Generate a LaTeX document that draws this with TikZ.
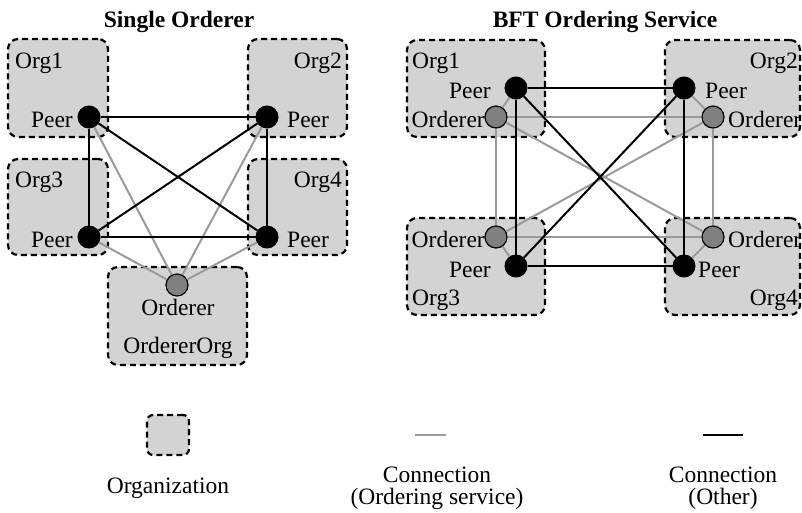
\documentclass[tikz,border=0pt]{standalone}
\usepackage{fontspec}
\setmainfont{Liberation Serif}
\definecolor{orgfill}{HTML}{D3D3D3}
\definecolor{ordfill}{HTML}{808080}
\definecolor{linegray}{HTML}{9A9A9A}
\begin{document}
\begin{tikzpicture}[x=1pt,y=-1pt,
  org/.style={draw=black, fill=orgfill, line width=2.2pt, dash pattern=on 6pt off 4pt, rounded corners=10pt, inner sep=0pt},
  peer/.style={circle, fill=black, draw=black, line width=1pt, minimum size=22pt, inner sep=0pt},
  ord/.style={circle, fill=ordfill, draw=black, line width=1.2pt, minimum size=22pt, inner sep=0pt},
  lbl/.style={inner sep=0pt, font=\fontsize{23.5}{26}\selectfont},
  ttl/.style={inner sep=0pt, font=\fontsize{23.5}{26}\selectfont\bfseries},
  blk/.style={draw=black, line width=2pt},
  gry/.style={draw=linegray, line width=2pt}]
\useasboundingbox (0,0) rectangle (802,512);

% ---------- Left panel: Single Orderer ----------
\node[ttl, anchor=base] (tl) at (179,27) {Single Orderer};
\node[org, minimum width=100pt, minimum height=98pt] (L1) at (58,88) {};
\node[org, minimum width=99pt, minimum height=98pt] (L2) at (297.5,88) {};
\node[org, minimum width=100pt, minimum height=96pt] (L3) at (58,207) {};
\node[org, minimum width=99pt, minimum height=96pt] (L4) at (297.5,207) {};
\node[org, minimum width=139pt, minimum height=98pt] (LO) at (177.5,316) {};

\node[peer] (lp1) at (89,117) {};
\node[peer] (lp2) at (267,117) {};
\node[peer] (lp3) at (89,237) {};
\node[peer] (lp4) at (267,237) {};
\node[ord] (lo) at (177,285) {};

\draw[gry] (lp1) -- (lo);
\draw[gry] (lp2) -- (lo);
\draw[gry] (lp3) -- (lo);
\draw[gry] (lp4) -- (lo);
\draw[blk] (lp1) -- (lp2);
\draw[blk] (lp1) -- (lp3);
\draw[blk] (lp1) -- (lp4);
\draw[blk] (lp2) -- (lp3);
\draw[blk] (lp2) -- (lp4);
\draw[blk] (lp3) -- (lp4);

\node[lbl, anchor=base west] (l1t) at (15,68) {Org1};
\node[lbl, anchor=base east] (l2t) at (342,68) {Org2};
\node[lbl, anchor=base west] (l3t) at (15,187) {Org3};
\node[lbl, anchor=base east] (l4t) at (342,187) {Org4};
\node[lbl, anchor=base east] (lp1t) at (73,127) {Peer};
\node[lbl, anchor=base west] (lp2t) at (287,127) {Peer};
\node[lbl, anchor=base east] (lp3t) at (73,247) {Peer};
\node[lbl, anchor=base west] (lp4t) at (287,247) {Peer};
\node[lbl, anchor=base] (lot) at (178,315) {Orderer};
\node[lbl, anchor=base] (lorgt) at (178,353) {OrdererOrg};

% ---------- Right panel: BFT Ordering Service ----------
\node[ttl, anchor=base] (tr) at (605,27) {BFT Ordering Service};
\node[org, minimum width=138pt, minimum height=97pt] (R1) at (476,88.5) {};
\node[org, minimum width=135pt, minimum height=97pt] (R2) at (732.5,88.5) {};
\node[org, minimum width=138pt, minimum height=97pt] (R3) at (476,266.5) {};
\node[org, minimum width=135pt, minimum height=97pt] (R4) at (732.5,266.5) {};

\node[peer] (rp1) at (516,88) {};
\node[ord] (ro1) at (496,117) {};
\node[peer] (rp2) at (684,88) {};
\node[ord] (ro2) at (713,117) {};
\node[ord] (ro3) at (496,237) {};
\node[peer] (rp3) at (516,266) {};
\node[ord] (ro4) at (713,237) {};
\node[peer] (rp4) at (684,266) {};

% ordering service connections (gray)
\draw[gry] (rp1) -- (ro1);
\draw[gry] (rp2) -- (ro2);
\draw[gry] (rp3) -- (ro3);
\draw[gry] (rp4) -- (ro4);
\draw[gry] (ro1) -- (ro2);
\draw[gry] (ro1) -- (ro3);
\draw[gry] (ro1) -- (ro4);
\draw[gry] (ro2) -- (ro3);
\draw[gry] (ro2) -- (ro4);
\draw[gry] (ro3) -- (ro4);
% other connections (black)
\draw[blk] (rp1) -- (rp2);
\draw[blk, line width=2.6pt] (rp1) -- (rp3);
\draw[blk] (rp1) -- (rp4);
\draw[blk] (rp2) -- (rp3);
\draw[blk, line width=2.6pt] (rp2) -- (rp4);
\draw[blk] (rp3) -- (rp4);

\node[lbl, anchor=base west] (r1t) at (412,68) {Org1};
\node[lbl, anchor=base east] (r2t) at (798,68) {Org2};
\node[lbl, anchor=base west] (r3t) at (412,305) {Org3};
\node[lbl, anchor=base east] (r4t) at (798,305) {Org4};
\node[lbl, anchor=base east] (rp1t) at (491,98) {Peer};
\node[lbl, anchor=base east] (ro1t) at (485,127) {Orderer};
\node[lbl, anchor=base west] (rp2t) at (705,98) {Peer};
\node[lbl, anchor=base west] (ro2t) at (728,127) {Orderer};
\node[lbl, anchor=base east] (ro3t) at (485,247) {Orderer};
\node[lbl, anchor=base east] (rp3t) at (491,277) {Peer};
\node[lbl, anchor=base west] (ro4t) at (728,247) {Orderer};
\node[lbl, anchor=base west] (rp4t) at (698,277) {Peer};

% ---------- Legend ----------
\node[org, rounded corners=6pt, minimum width=42pt, minimum height=40pt] (lg) at (168,435) {};
\node[lbl, anchor=base] (lgt) at (168,493) {Organization};
\coordinate (ga) at (415,435);
\coordinate (gb) at (446,435);
\draw[gry] (ga) -- (gb);
\node[lbl, anchor=base] (gt1) at (437,482) {Connection};
\node[lbl, anchor=base] (gt2) at (437,504) {(Ordering service)};
\coordinate (ba) at (703,435);
\coordinate (bb) at (743,435);
\draw[blk] (ba) -- (bb);
\node[lbl, anchor=base] (bt1) at (723,482) {Connection};
\node[lbl, anchor=base] (bt2) at (723,504) {(Other)};
\end{tikzpicture}
\end{document}
